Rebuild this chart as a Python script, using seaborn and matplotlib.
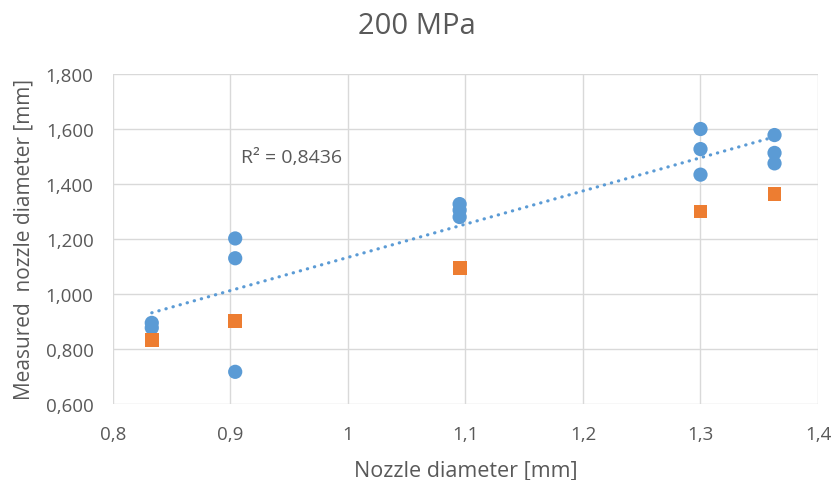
import numpy as np
import pandas as pd
import matplotlib
matplotlib.use("Agg")
import matplotlib.pyplot as plt
import seaborn as sns

# Measured nozzle diameters (blue) against nominal diameter
measured_x = [0.833, 0.833, 0.904, 0.904, 0.904, 1.095, 1.095, 1.095,
              1.300, 1.300, 1.300, 1.363, 1.363, 1.363]
measured_y = [0.895, 0.877, 1.202, 1.130, 0.717, 1.327, 1.305, 1.280,
              1.600, 1.527, 1.434, 1.578, 1.513, 1.475]

# Nominal diameters (orange)
nominal_x = [0.833, 0.904, 1.095, 1.300, 1.363]
nominal_y = [0.833, 0.902, 1.095, 1.300, 1.364]

x_ticks = [0.8, 0.9, 1.0, 1.1, 1.2, 1.3, 1.4]
x_tick_labels = ["0,8", "0,9", "1", "1,1", "1,2", "1,3", "1,4"]
y_ticks = [0.6, 0.8, 1.0, 1.2, 1.4, 1.6, 1.8]
y_tick_labels = ["0,600", "0,800", "1,000", "1,200", "1,400", "1,600", "1,800"]

title = "200 MPa"
x_label = "Nozzle diameter [mm]"
y_label = "Measured  nozzle diameter [mm]"
r2_label = "R² = 0,8436"

BLUE = "#5B9BD5"
ORANGE = "#ED7D31"
TEXT = "#595959"
GRID = "#D9D9D9"

sns.set_theme(style="white")
plt.rcParams["font.family"] = ["Open Sans", "DejaVu Sans"]

measured = pd.DataFrame({"x": measured_x, "y": measured_y})
nominal = pd.DataFrame({"x": nominal_x, "y": nominal_y})

fig = plt.figure(figsize=(8.34, 4.81), dpi=100)
ax = fig.add_axes([113 / 834, 1 - 405 / 481, (818 - 113) / 834, (405 - 75) / 481])

# Linear trendline through the measured points
sns.regplot(data=measured, x="x", y="y", ax=ax, scatter=False, ci=None,
            truncate=True,
            line_kws=dict(color=BLUE, lw=2.3, linestyle=(0, (0.1, 2.2)),
                          dash_capstyle="round", zorder=2))

sns.scatterplot(data=measured, x="x", y="y", ax=ax, color=BLUE, marker="o",
                s=105, edgecolor="none", zorder=3, legend=False)
sns.scatterplot(data=nominal, x="x", y="y", ax=ax, color=ORANGE, marker="s",
                s=100, edgecolor="none", zorder=4, legend=False)

ax.set_xlim(0.8, 1.4)
ax.set_ylim(0.6, 1.8)
ax.set_xticks(x_ticks)
ax.set_xticklabels(x_tick_labels)
ax.set_yticks(y_ticks)
ax.set_yticklabels(y_tick_labels)
ax.tick_params(axis="both", length=0, labelsize=13.5, labelcolor=TEXT)
ax.tick_params(axis="x", pad=15)
ax.tick_params(axis="y", pad=14)

ax.grid(True, color=GRID, lw=1.0)
ax.set_axisbelow(True)
for side in ax.spines.values():
    side.set_visible(False)

ax.set_xlabel(x_label, fontsize=15.5, color=TEXT, labelpad=12)
ax.set_ylabel(y_label, fontsize=15, color=TEXT, labelpad=8)
fig.text(0.5, 1 - 27 / 481, title, ha="center", va="center",
         fontsize=21, color=TEXT)

ax.text(0.909, 1.498, r2_label, ha="left", va="center", fontsize=14,
        color=TEXT)

fig.savefig("out.png", dpi=100, facecolor="white")
